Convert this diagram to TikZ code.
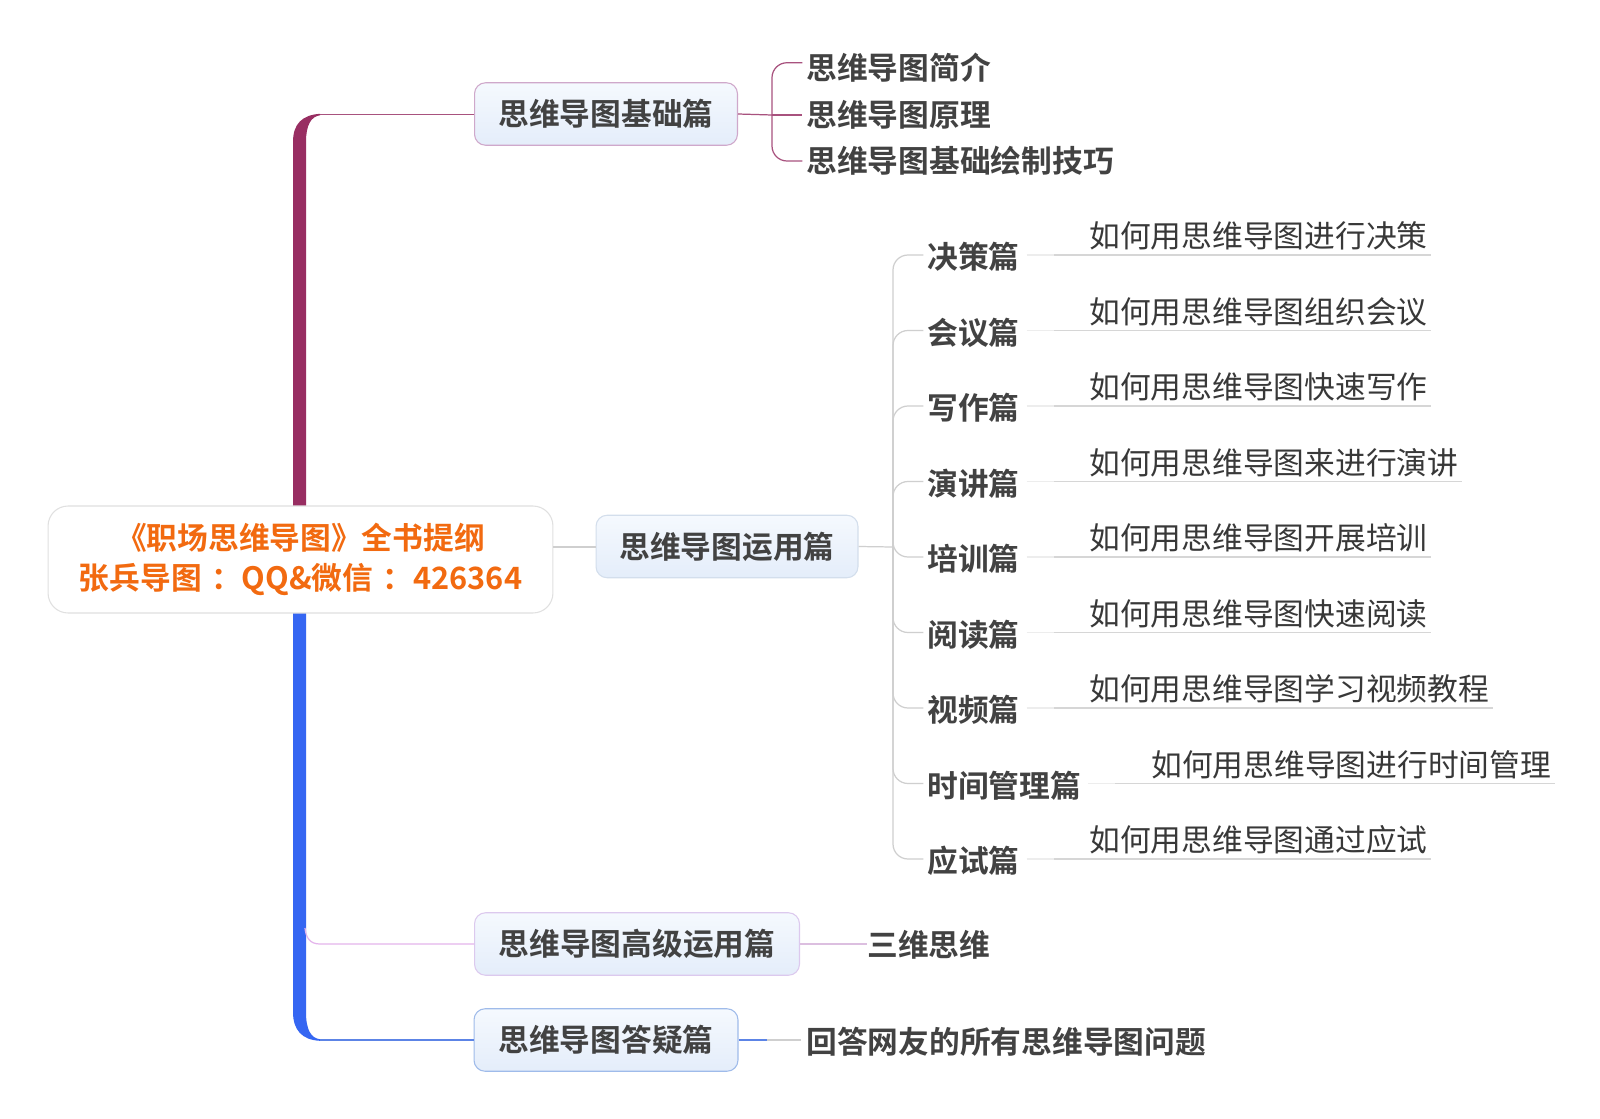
\documentclass[tikz,border=0pt]{standalone}
\usepackage{fontspec}
\setmainfont{Noto Sans CJK SC}[BoldFont={Noto Sans CJK SC Bold}]
\definecolor{maroonT}{HTML}{982E62}
\definecolor{blueT}{HTML}{3566F2}
\definecolor{orangeT}{HTML}{F26A10}
\definecolor{txt}{HTML}{424242}
\definecolor{gctxt}{HTML}{383838}
\definecolor{lA}{HTML}{A8527E}
\definecolor{lB}{HTML}{CFCFCF}
\definecolor{lC}{HTML}{E4B4EC}
\definecolor{lD}{HTML}{5C84E6}
\definecolor{ulc}{HTML}{D6D6D6}
\definecolor{ulf}{HTML}{EDEDED}
\definecolor{bdA}{HTML}{CFA8CB}
\definecolor{bdB}{HTML}{D3DEEC}
\definecolor{bdC}{HTML}{DCC9EE}
\definecolor{bdD}{HTML}{9FBBEA}
\definecolor{boxtop}{HTML}{F5F9FE}
\definecolor{boxbot}{HTML}{E4EDFA}
\begin{document}
\begin{tikzpicture}[x=0.02cm,y=-0.02cm,
  bigfont/.style={font=\fontsize{17.5}{22.8}\selectfont\bfseries},
  branchbox/.style={draw, line width=0.6pt, rounded corners=0.22cm, top color=boxtop, bottom color=boxbot,
    minimum height=1.25cm, inner sep=0pt, text=txt, bigfont},
  rootbox/.style={draw=black!12, line width=0.6pt, fill=white, rounded corners=0.4cm,
    minimum width=10.1cm, minimum height=2.14cm, align=center, text=orangeT, bigfont},
  lbl/.style={anchor=west, inner sep=0pt, text=txt, bigfont},
  gc/.style={anchor=west, inner sep=0pt, text=gctxt, font=\fontsize{17.5}{21}\selectfont},
  cA/.style={draw=lA, line width=0.7pt},
  cB/.style={draw=lB, line width=0.7pt},
  cC/.style={draw=lC, line width=0.7pt},
  cD/.style={draw=lD, line width=0.7pt},
  ul/.style={draw=ulc, line width=0.8pt},
  ulfaint/.style={draw=ulf, line width=0.8pt},
  rcorner/.style={rounded corners=0.3cm}
]
\useasboundingbox (0,0) rectangle (1600,1119);
\fill[white] (0,0) rectangle (1600,1119);

% trunk
\fill[maroonT] (293,540) -- (293,142) .. controls (293,124) and (302,115) .. (320,113.8)
  -- (320,115.3) .. controls (311,116.5) and (306,125) .. (306,142) -- (306,540) -- cycle;
\fill[blueT] (293,580) -- (293,1012) .. controls (293,1030) and (302,1040) .. (320,1040.8)
  -- (320,1039.3) .. controls (311,1038) and (306,1030) .. (306,1012) -- (306,580) -- cycle;

% root
\node[rootbox] (root) at (300.5,559.5) {《职场思维导图》全书提纲\\张兵导图\hspace{0.3em}：QQ\&微信\hspace{0.3em}：426364};

% branches
\node[branchbox, draw=bdA, minimum width=5.26cm] (b1) at (606,114) {思维导图基础篇};
\node[branchbox, draw=bdB, minimum width=5.24cm] (b2) at (727,546.5) {思维导图运用篇};
\node[branchbox, draw=bdC, minimum width=6.5cm] (b3) at (637,944) {思维导图高级运用篇};
\node[branchbox, draw=bdD, minimum width=5.28cm] (b4) at (606,1040) {思维导图答疑篇};

% trunk to branches
\coordinate (t1) at (320,114.5);
\draw[cA] (t1) -- (b1.west |- t1);
\coordinate (t3) at (305,928);
\draw[cC] (t3) .. controls (306,938) and (310,944) .. (320,944) -- (b3.west);
\coordinate (t4) at (320,1040);
\draw[cD] (t4) -- (b4.west |- t4);
\coordinate (r2) at (553,547);
\draw[cB] (r2) -- (b2.west |- r2);

% branch 1 children
\node[lbl] (c11) at (806,68) {思维导图简介};
\node[lbl] (c12) at (806,115) {思维导图原理};
\node[lbl] (c13) at (806,161) {思维导图基础绘制技巧};
\coordinate (k1) at (772,115);
\draw[cA] (b1.east) -- (k1);
\draw[cA, rcorner] (k1) |- ([xshift=-2pt,yshift=3pt]c11.west);
\draw[cA] (k1) -- ([xshift=-2pt]c12.west);
\draw[cA, rcorner] (k1) |- ([xshift=-2pt]c13.west);

% branch 2 children
\coordinate (k2) at (893,547);
\draw[cB] (b2.east) -- (k2);
\foreach \i/\s/\g/\gx/\ux in {
  0/决策篇/如何用思维导图进行决策/1089/1054,
  1/会议篇/如何用思维导图组织会议/1089/1054,
  2/写作篇/如何用思维导图快速写作/1089/1054,
  3/演讲篇/如何用思维导图来进行演讲/1089/1054,
  4/培训篇/如何用思维导图开展培训/1089/1054,
  5/阅读篇/如何用思维导图快速阅读/1089/1054,
  6/视频篇/如何用思维导图学习视频教程/1089/1054,
  7/时间管理篇/如何用思维导图进行时间管理/1151/1115,
  8/应试篇/如何用思维导图通过应试/1089/1054}{
  \node[lbl] (s\i) at (927,257+75.5*\i) {\s};
  \node[gc] (g\i) at (\gx,236+75.5*\i) {\g};
  \coordinate (u\i) at (\ux,255+75.5*\i);
  \draw[cB, rcorner] (k2) |- ([xshift=-2pt]s\i.west |- u\i);
  \draw[ulfaint] ([xshift=4pt]s\i.east |- u\i) -- (u\i);
  \draw[ul] (u\i) -- ([xshift=2pt]g\i.east |- u\i);
}

% branch 3 and 4 children
\node[lbl] (c31) at (867,945) {三维思维};
\draw[draw=lC!60!lB, line width=0.7pt] (b3.east) -- (b3.east -| c31.west);
\node[lbl] (c41) at (806,1042) {回答网友的所有思维导图问题};
\draw[cD] (b4.east) -- ([xshift=-22pt]b4.east -| c41.west);
\draw[cB] ([xshift=-22pt]b4.east -| c41.west) -- ([xshift=-3pt]b4.east -| c41.west);
\end{tikzpicture}
\end{document}
